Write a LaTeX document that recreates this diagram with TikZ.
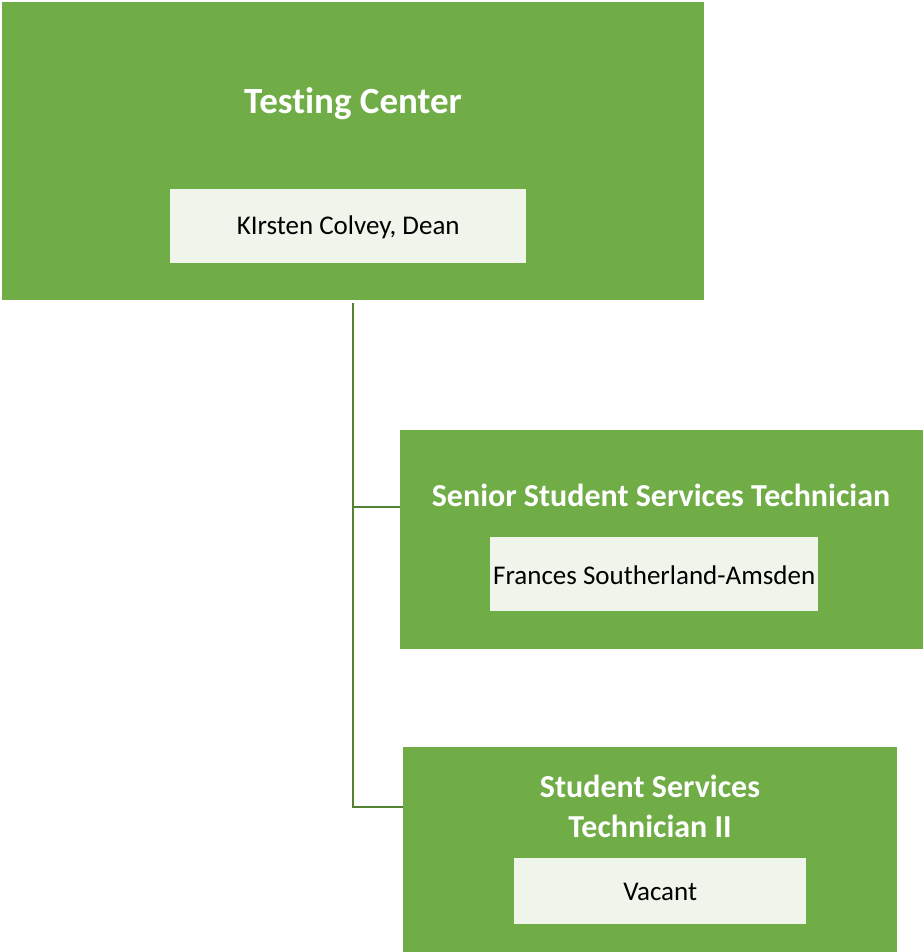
\documentclass[tikz,border=0pt]{standalone}
\usepackage{fontspec}
\setmainfont{Carlito}[Ligatures=NoCommon]
\usetikzlibrary{positioning,calc}
\definecolor{boxgreen}{HTML}{70AD47}
\definecolor{namefill}{HTML}{EFF5EA}
\definecolor{linegreen}{HTML}{548235}
\tikzset{
unit/.style={fill=boxgreen, inner sep=0pt, anchor=north west},
title/.style={text=white, font=\fontsize{37}{44}\selectfont\bfseries, align=center, inner sep=0pt},
subtitle/.style={text=white, font=\fontsize{32}{40}\selectfont\bfseries, align=center, inner sep=0pt},
person/.style={fill=namefill, inner sep=0pt, anchor=north west},
who/.style={inner sep=0pt, font=\fontsize{27}{31}\selectfont},
link/.style={draw=linegreen, line width=2pt},
}
\begin{document}
\begin{tikzpicture}[x=1pt,y=1pt]
\useasboundingbox[fill=white] (0,0) rectangle (923,-952);
% top unit
\node (center) [unit, minimum width=702pt, minimum height=298pt] at (2,-2) {};
\node (centertitle) [title] at (353,-104) {Testing Center};
\node (dean) [person, minimum width=356pt, minimum height=74pt] at (170,-189) {};
\node (deanname) [who] at ($(dean.center)+(0,-1)$) {KIrsten Colvey, Dean};
% senior technician
\node (senior) [unit, minimum width=523pt, minimum height=219pt] at (400,-430) {};
\node (seniortitle) [subtitle] at (661,-495) {Senior Student Services Technician};
\node (frances) [person, minimum width=328pt, minimum height=74pt] at (490,-537) {};
\node (francesname) [who] at ($(frances.center)+(0,-1)$) {Frances Southerland-Amsden};
% technician II
\node (tech) [unit, minimum width=494pt, minimum height=205pt] at (403,-747) {};
\node (techtitle) [subtitle] at (650,-806) {Student Services\\Technician II};
\node (vacant) [person, minimum width=292pt, minimum height=66pt] at (514,-858) {};
\node (vacantname) [who] at ($(vacant.center)+(0,-1)$) {Vacant};
% connectors
\coordinate (trunk) at (353,-303);
\coordinate (seniorjoin) at (senior.west |- 0,-507);
\coordinate (techjoin) at (tech.west |- 0,-807);
\draw[link] (trunk) |- (seniorjoin);
\draw[link] (trunk) |- (techjoin);
\end{tikzpicture}
\end{document}
